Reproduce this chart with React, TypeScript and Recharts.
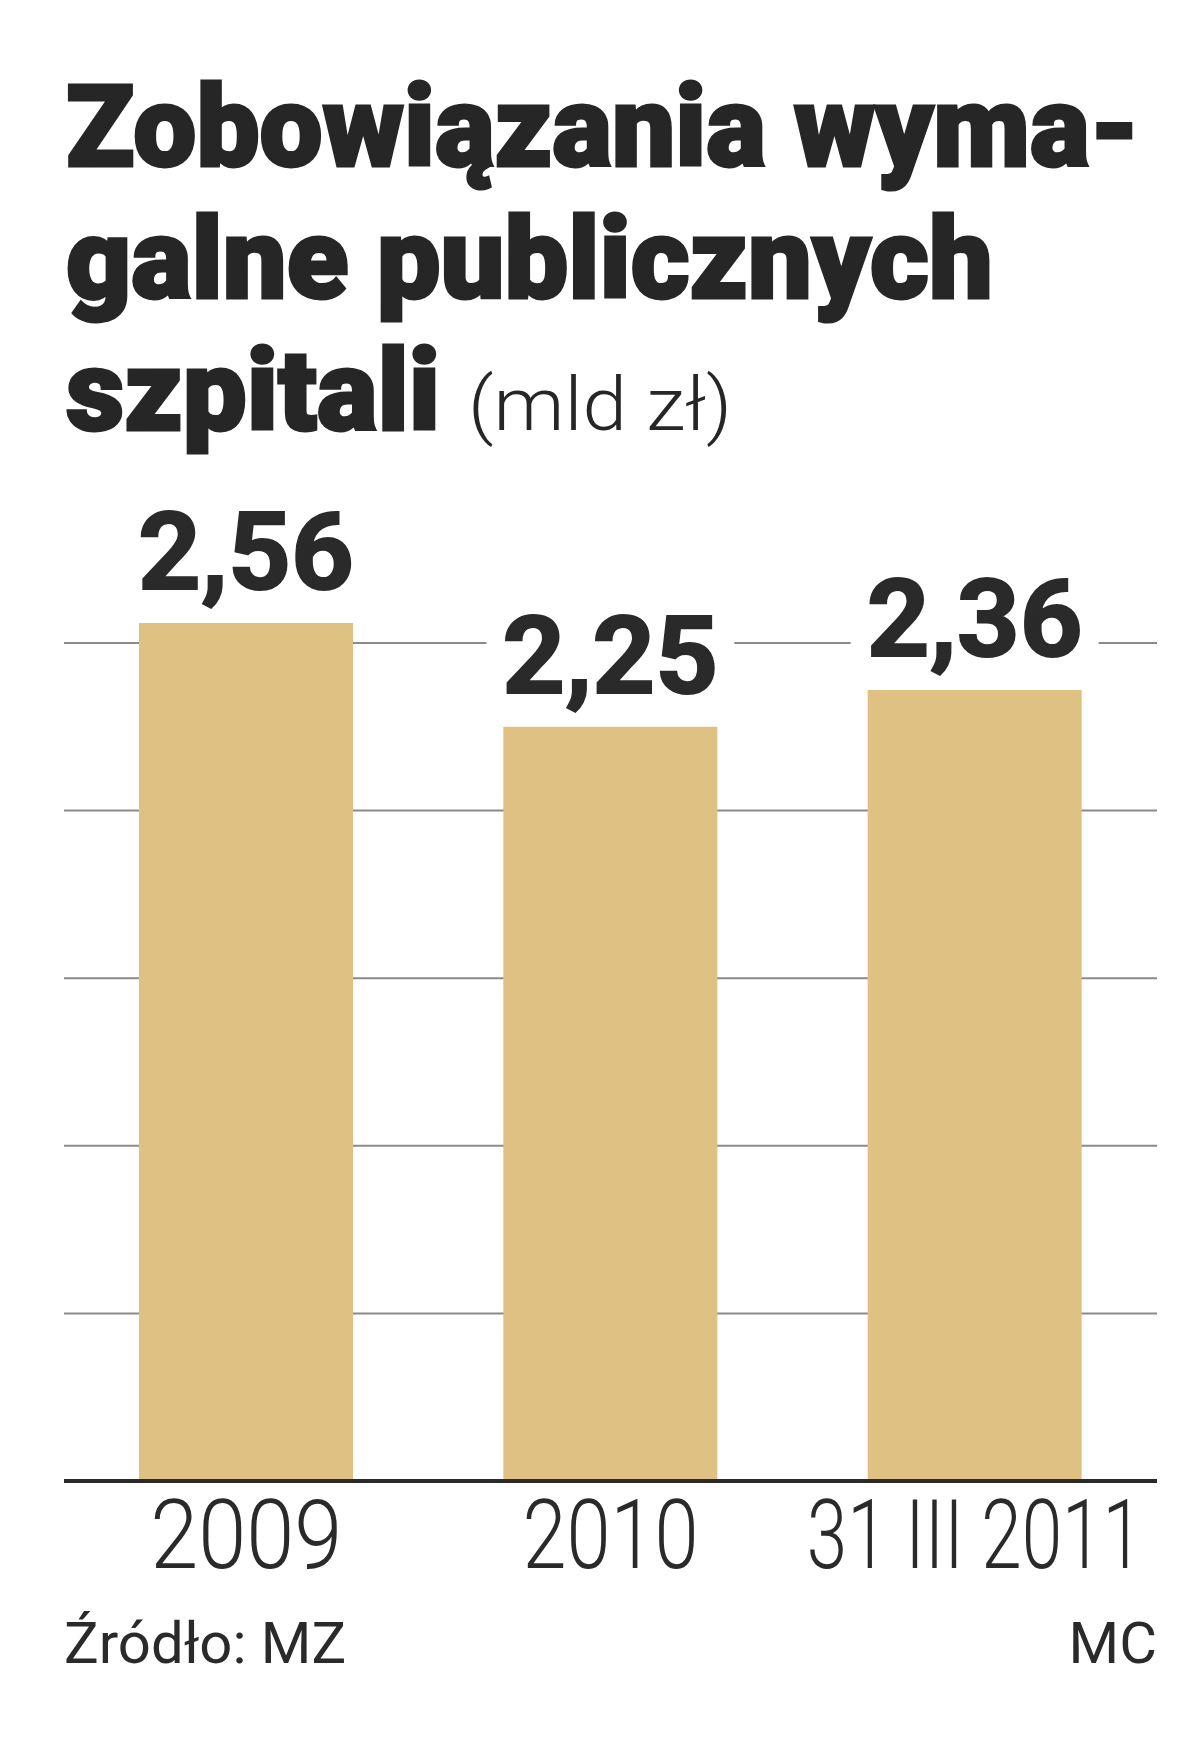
import { BarChart, Bar, XAxis, YAxis, CartesianGrid, LabelList } from "recharts";

const categories = ["2009", "2010", "31 III 2011"];
const values = [2.56, 2.25, 2.36];
const valueLabels = ["2,56", "2,25", "2,36"];
const gridTicks = [0, 0.5, 1, 1.5, 2, 2.5];

const data = categories.map((name, i) => ({ name, value: values[i], label: valueLabels[i] }));

// widths the tick texts are squeezed to (reference font is condensed, with narrow 1s)
const tickWidth: Record<string, number> = { "2009": 192, "2010": 176, "31 III 2011": 336 };

const INK = "#2a2a2a";
const FONT = "Roboto, 'Noto Sans', sans-serif";

const Tick = (props: any) => {
  const { x, y, payload } = props;
  const label = String(payload.value);
  return (
    <text
      x={x}
      y={y + 79}
      textAnchor="middle"
      fontFamily={FONT}
      fontSize={96}
      fontWeight={300}
      fill={INK}
      textLength={tickWidth[label]}
      lengthAdjust="spacingAndGlyphs"
    >
      {label}
    </text>
  );
};

const ValueLabel = (props: any) => {
  const { x, y, width, value } = props;
  const cx = x + width / 2;
  const base = y - 34;
  return (
    <g>
      <rect x={cx - 124} y={base - 92} width={248} height={104} fill="#fff" />
      <text
        x={cx}
        y={base}
        textAnchor="middle"
        fontFamily={FONT}
        fontSize={108}
        fontWeight={700}
        fill={INK}
        stroke={INK}
        strokeWidth={2}
        textLength={216}
        lengthAdjust="spacingAndGlyphs"
      >
        {value}
      </text>
    </g>
  );
};

export default function App() {
  return (
    <div style={{ position: "absolute", left: 0, top: 0, width: 1200, height: 1739, background: "#fff" }}>
      <BarChart
        width={1200}
        height={1739}
        data={data}
        margin={{ top: 475.4, right: 43, left: 64, bottom: 158 }}
      >
        <CartesianGrid
          horizontal
          vertical={false}
          horizontalValues={gridTicks}
          stroke="#8a8a8a"
          strokeWidth={2}
        />
        <YAxis hide domain={[0, 3]} ticks={gridTicks} />
        <XAxis
          dataKey="name"
          height={100}
          axisLine={{ stroke: INK, strokeWidth: 4 }}
          tickLine={false}
          tick={<Tick />}
          interval={0}
        />
        <Bar dataKey="value" fill="#DFC283" barSize={214} isAnimationActive={false}>
          <LabelList dataKey="label" content={<ValueLabel />} />
        </Bar>
      </BarChart>
      <svg
        width={1200}
        height={1739}
        style={{ position: "absolute", left: 0, top: 0, pointerEvents: "none" }}
      >
        <g fontFamily={FONT} fill="#262626" stroke="#262626" strokeWidth={3} fontSize={114} fontWeight={900}>
          <text x={66} y={166} textLength={1074} lengthAdjust="spacingAndGlyphs">
            Zobowiązania wyma-
          </text>
          <text x={66} y={298} textLength={927} lengthAdjust="spacingAndGlyphs">
            galne publicznych
          </text>
          <text x={66} y={430} textLength={374} lengthAdjust="spacingAndGlyphs">
            szpitali
          </text>
        </g>
        <text
          x={468}
          y={430}
          fontFamily={FONT}
          fill="#262626"
          fontSize={75}
          fontWeight={300}
          textLength={264}
          lengthAdjust="spacingAndGlyphs"
        >
          (mld zł)
        </text>
        <g fontFamily={FONT} fontSize={58} fill={INK}>
          <text x={64} y={1663}>Źródło: MZ</text>
          <text x={1157} y={1663} textAnchor="end">MC</text>
        </g>
      </svg>
    </div>
  );
}
